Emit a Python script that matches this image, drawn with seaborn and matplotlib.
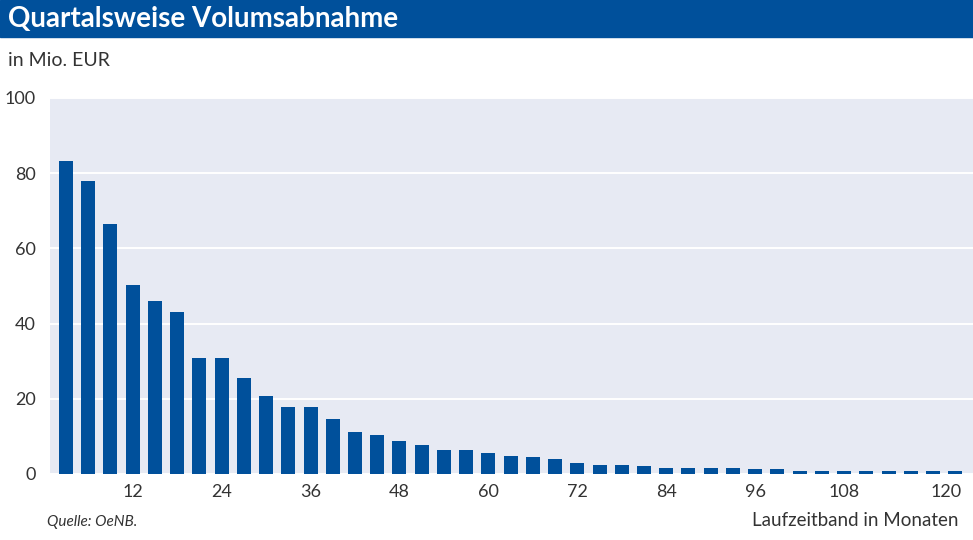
"""
Quartalsweise Volumsabnahme - bar chart
"""

import matplotlib
matplotlib.use("Agg")
import matplotlib.pyplot as plt
import matplotlib.transforms as mtransforms
import seaborn as sns
import pandas as pd

sns.set_theme(style="darkgrid")
plt.rcParams["font.family"] = ["Lato", "DejaVu Sans"]

BLUE = "#00509b"
PANEL = "#e7eaf3"
TEXT = "#333333"

# Laufzeitband in Monaten (quarterly buckets)
months = list(range(3, 124, 3))
volume = [
    83.3, 78.0, 66.5, 50.3, 46.0, 43.1, 30.8, 30.8, 25.5, 20.7,
    17.7, 17.7, 14.5, 11.3, 10.3, 8.7, 7.6, 6.5, 6.3, 5.5,
    4.7, 4.4, 3.9, 2.8, 2.3, 2.3, 2.0, 1.7, 1.7, 1.7,
    1.5, 1.2, 1.2, 0.9, 0.9, 0.9, 0.9, 0.9, 0.9, 0.9, 0.9,
]
tick_months = [12, 24, 36, 48, 60, 72, 84, 96, 108, 120]
y_ticks = [0, 20, 40, 60, 80, 100]

df = pd.DataFrame({"monate": [str(m) for m in months], "volumen": volume})

fig = plt.figure(figsize=(9.73, 5.40), dpi=100)
W, H = 973, 540
ax = fig.add_axes([50 / W, (H - 474) / H, 923 / W, (474 - 98) / H])
ax.set_facecolor(PANEL)

sns.barplot(data=df, x="monate", y="volumen", color=BLUE, width=0.63,
            saturation=1, linewidth=0, ax=ax)

ax.set_xlim(-0.72, len(months) - 0.2)
ax.set_ylim(0, 100)
ax.set_yticks(y_ticks)
ax.set_yticklabels([str(v) for v in y_ticks])
ax.grid(axis="y", color="white", linewidth=1.4)
ax.grid(axis="x", visible=False)
for s in ax.spines.values():
    s.set_visible(False)

pos = [months.index(m) for m in tick_months]
ax.set_xticks(pos)
ax.set_xticklabels([str(m) for m in tick_months])
ax.tick_params(axis="both", length=0, labelsize=13, colors=TEXT)
ax.tick_params(axis="y", pad=10)
ax.tick_params(axis="x", pad=7)
# last label sits a bit further right in the original
last = ax.get_xticklabels()[-1]
last.set_transform(last.get_transform() + mtransforms.ScaledTranslation(0.13, 0, fig.dpi_scale_trans))
for lbl in ax.get_yticklabels():
    lbl.set_horizontalalignment("right")
ax.set_xlabel("")
ax.set_ylabel("")

# title band
fig.patches.append(plt.Rectangle((0, (H - 37) / H), 1, 37 / H, transform=fig.transFigure,
                                 color=BLUE, zorder=0))
fig.text(8 / W, 1 - 19 / H, "Quartalsweise Volumsabnahme", color="white",
         fontsize=20, fontweight="bold", va="center", ha="left")
fig.text(8 / W, 1 - 60 / H, "in Mio. EUR", color=TEXT, fontsize=14,
         va="center", ha="left")
fig.text(47 / W, 1 - 522 / H, "Quelle: OeNB.", color=TEXT, fontsize=11,
         style="italic", va="center", ha="left")
fig.text(958 / W, 1 - 520 / H, "Laufzeitband in Monaten", color=TEXT,
         fontsize=13.5, va="center", ha="right")

fig.savefig("out.png", dpi=100)
